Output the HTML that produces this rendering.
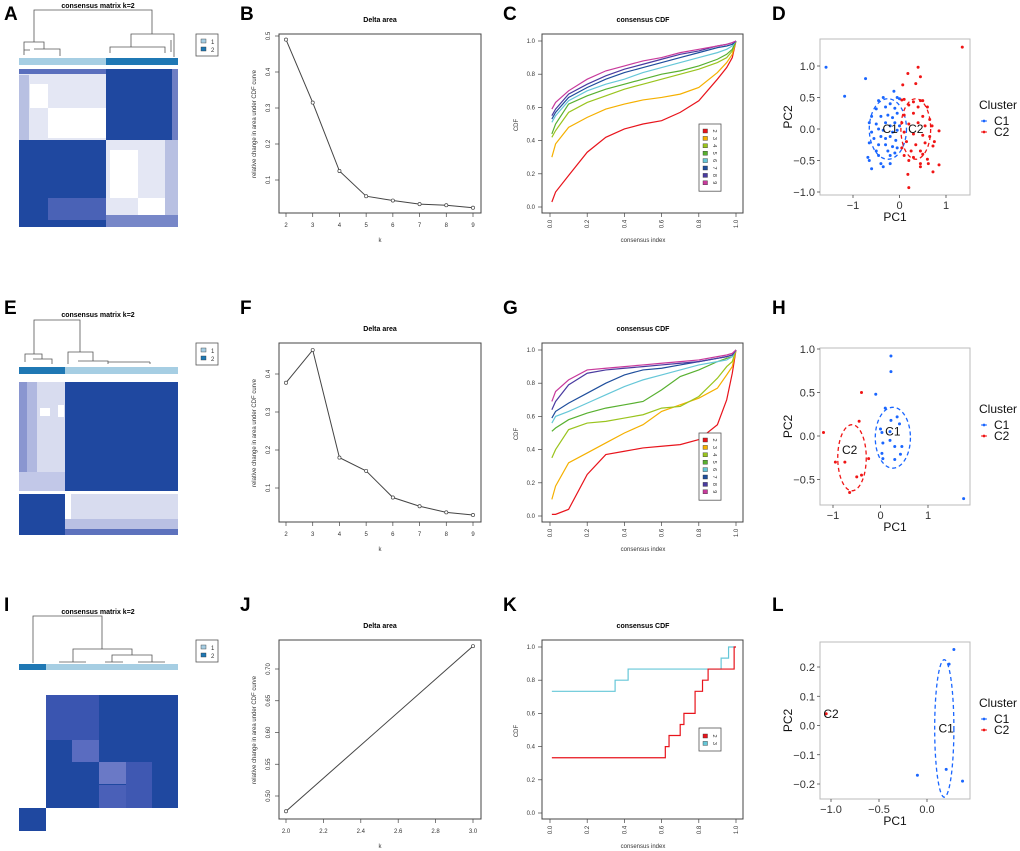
<!DOCTYPE html>
<html><head><meta charset="utf-8">
<style>
html,body{margin:0;padding:0;background:#fff;}
svg{display:block;font-family:"Liberation Sans",sans-serif;}
</style></head>
<body>
<svg id="fig" width="1020" height="851" viewBox="0 0 1020 851" xmlns="http://www.w3.org/2000/svg"></svg>
<script>
// ---------- DATA ----------
const deltaK = [2,3,4,5,6,7,8,9];
const deltaB = [0.49,0.315,0.125,0.055,0.043,0.033,0.030,0.023];
const deltaF = [0.377,0.463,0.18,0.145,0.075,0.052,0.036,0.029];
const deltaJk = [2,3];
const deltaJ = [0.476,0.736];
const cdfX = [0.01,0.03,0.1,0.2,0.3,0.4,0.5,0.6,0.7,0.8,0.9,0.95,0.98,1.0];
const cdfKs = ['2','3','4','5','6','7','8','9'];
const cdfColors = ['#e8141c','#f5b000','#9ac41e','#58b030','#66c7d8','#1f4e9c','#4a3ba0','#c83a9c'];
const cdfC = [
 [0.03,0.09,0.19,0.33,0.42,0.47,0.50,0.52,0.57,0.64,0.77,0.84,0.90,1],
 [0.30,0.38,0.48,0.54,0.59,0.62,0.645,0.66,0.68,0.72,0.81,0.87,0.92,1],
 [0.42,0.46,0.57,0.63,0.67,0.71,0.74,0.77,0.80,0.83,0.87,0.90,0.94,1],
 [0.44,0.50,0.62,0.67,0.71,0.74,0.77,0.80,0.82,0.85,0.89,0.92,0.95,1],
 [0.51,0.55,0.64,0.70,0.74,0.77,0.81,0.84,0.87,0.90,0.93,0.95,0.97,1],
 [0.53,0.57,0.66,0.72,0.77,0.81,0.84,0.87,0.90,0.93,0.96,0.97,0.98,1],
 [0.55,0.59,0.68,0.74,0.79,0.83,0.86,0.89,0.92,0.94,0.97,0.98,0.99,1],
 [0.59,0.63,0.70,0.77,0.82,0.85,0.88,0.90,0.93,0.95,0.97,0.98,0.99,1]];
const cdfG = [
 [0.01,0.01,0.04,0.25,0.37,0.39,0.41,0.42,0.43,0.46,0.55,0.70,0.86,1],
 [0.10,0.18,0.32,0.38,0.44,0.50,0.55,0.63,0.67,0.71,0.77,0.85,0.90,1],
 [0.35,0.40,0.52,0.56,0.57,0.59,0.61,0.65,0.66,0.72,0.83,0.90,0.93,1],
 [0.51,0.53,0.58,0.62,0.65,0.67,0.69,0.76,0.84,0.88,0.93,0.95,0.96,1],
 [0.56,0.60,0.63,0.68,0.73,0.78,0.82,0.85,0.88,0.91,0.93,0.94,0.96,1],
 [0.59,0.63,0.68,0.74,0.80,0.85,0.88,0.89,0.91,0.93,0.95,0.96,0.97,1],
 [0.64,0.69,0.79,0.86,0.88,0.89,0.90,0.91,0.92,0.93,0.95,0.96,0.97,1],
 [0.69,0.75,0.82,0.88,0.89,0.90,0.91,0.92,0.93,0.94,0.96,0.97,0.98,1]];
const stepK2x = [0.01,0.62,0.63,0.64,0.70,0.71,0.72,0.78,0.79,0.82,0.83,0.85,0.98,0.99,1.0];
const stepK2y = [0.333,0.40,0.40,0.467,0.533,0.533,0.60,0.733,0.733,0.80,0.80,0.867,0.867,1.0,1.0];
const stepK3x = [0.01,0.35,0.42,0.92,0.93,0.96,1.0];
const stepK3y = [0.733,0.80,0.867,0.933,0.933,1.0,1.0];
const pcaD_C1 = [[-1.58,0.98],[-1.18,0.52],[-0.73,0.8],[-0.12,0.6],[-0.35,0.5],[-0.05,0.5],[0.0,0.48],[-0.45,0.45],[-0.2,0.4],[-0.3,0.35],[-0.1,0.33],[-0.5,0.32],[-0.6,0.2],[-0.4,0.2],[-0.25,0.22],[-0.15,0.18],[-0.05,0.25],[-0.65,0.1],[-0.5,0.08],[-0.3,0.1],[-0.2,0.05],[-0.1,0.1],[0.0,0.05],[-0.6,-0.05],[-0.45,0.0],[-0.35,-0.02],[-0.15,-0.05],[-0.05,-0.02],[-0.55,-0.15],[-0.4,-0.12],[-0.3,-0.15],[-0.2,-0.12],[-0.08,-0.18],[-0.65,-0.22],[-0.45,-0.25],[-0.3,-0.25],[-0.15,-0.28],[-0.05,-0.3],[-0.5,-0.35],[-0.25,-0.35],[-0.1,-0.38],[-0.68,-0.45],[-0.45,-0.42],[-0.2,-0.42],[-0.65,-0.5],[-0.4,-0.55],[-0.2,-0.55],[-0.6,-0.63],[-0.35,-0.6]];
const pcaD_C2 = [[1.35,1.3],[0.4,0.98],[0.18,0.88],[0.45,0.83],[0.35,0.72],[0.07,0.7],[0.05,0.46],[0.1,0.47],[0.3,0.43],[0.45,0.45],[0.5,0.45],[0.2,0.38],[0.4,0.35],[0.6,0.35],[0.1,0.22],[0.3,0.25],[0.5,0.2],[0.65,0.15],[0.05,0.1],[0.2,0.08],[0.4,0.1],[0.55,0.05],[0.7,0.05],[0.85,-0.03],[0.1,-0.05],[0.3,-0.08],[0.5,-0.1],[0.65,-0.12],[0.15,-0.2],[0.35,-0.25],[0.55,-0.22],[0.75,-0.2],[0.05,-0.3],[0.25,-0.35],[0.45,-0.35],[0.72,-0.27],[0.1,-0.42],[0.3,-0.45],[0.5,-0.4],[0.6,-0.48],[0.2,-0.5],[0.45,-0.55],[0.62,-0.55],[0.85,-0.57],[0.45,-0.6],[0.72,-0.68],[0.18,-0.72],[0.2,-0.93]];
const pcaH_C1 = [[0.22,0.92],[0.22,0.74],[-0.1,0.48],[0.1,0.32],[0.22,0.18],[0.35,0.22],[0.4,0.14],[0,0.08],[0.03,0.04],[0.2,0.05],[0.05,-0.08],[0.2,-0.05],[0.3,-0.12],[0.45,-0.12],[0.03,-0.2],[0.05,-0.26],[0.42,-0.21],[0.3,-0.27],[1.75,-0.72]];
const pcaH_C2 = [[-1.2,0.04],[-0.4,0.5],[-0.45,0.17],[-0.95,-0.3],[-0.75,-0.3],[-0.25,-0.26],[-0.5,-0.47],[-0.4,-0.45],[-0.65,-0.65]];
const pcaL_C1 = [[0.28,0.26],[0.23,0.21],[0.2,-0.15],[-0.1,-0.17],[0.37,-0.19]];
const pcaL_C2 = [[-1.05,0.04]];

// ---------- HELPERS ----------
const NS='http://www.w3.org/2000/svg';
const svg=document.getElementById('fig');
function el(tag,attrs,parent,name,txt){
  const e=document.createElementNS(NS,tag);
  for(const k in attrs) e.setAttribute(k,attrs[k]);
  
  
  if(txt!==undefined) e.textContent=txt;
  (parent||svg).appendChild(e);
  return e;
}
function lin(d0,d1,r0,r1){return v=>r0+(v-d0)*(r1-r0)/(d1-d0);}
function label(x,y,t){el('text',{x:x,y:y,'font-size':19,'font-weight':'bold',fill:'#000'},svg,'panel-label-'+t,t);}

// ---------- base-R delta-area plot ----------
function deltaPlot(oy,ks,vals,xd,yd,ticksY,ticksX,fmtX,fmtY,name){
  const g=el('g',{},svg,name);
  const x=lin(xd[0],xd[1],286,473), y=lin(yd[0],yd[1],yd[2],yd[3]);
  el('text',{x:380,y:oy+22,'font-size':7,'font-weight':'bold','text-anchor':'middle'},g,'title','Delta area');
  el('rect',{x:279,y:oy+34,width:202,height:179,fill:'none',stroke:'#444','stroke-width':1},g,'plot-frame');
  ticksX.forEach(t=>{el('line',{x1:x(t),x2:x(t),y1:oy+213,y2:oy+217,stroke:'#444','stroke-width':0.7},g,'x-tick');
    el('text',{x:x(t),y:oy+227,'font-size':6,'text-anchor':'middle',fill:'#333'},g,'x-tick-label',fmtX(t));});
  ticksY.forEach(t=>{const yy=y(t);el('line',{x1:275,x2:279,y1:yy,y2:yy,stroke:'#444','stroke-width':0.7},g,'y-tick');
    el('text',{x:270,y:yy,'font-size':6,'text-anchor':'middle',fill:'#333',transform:`rotate(-90 270 ${yy})`},g,'y-tick-label',fmtY(t));});
  el('text',{x:380,y:oy+242,'font-size':6,'text-anchor':'middle',fill:'#333'},g,'x-axis-title','k');
  const cy=oy+124;
  el('text',{x:256,y:cy,'font-size':6,'text-anchor':'middle',fill:'#333',transform:`rotate(-90 256 ${cy})`},g,'y-axis-title','relative change in area under CDF curve');
  el('polyline',{points:ks.map((k,i)=>x(k)+','+y(vals[i])).join(' '),fill:'none',stroke:'#444','stroke-width':1},g,'delta-line');
  ks.forEach((k,i)=>el('circle',{cx:x(k),cy:y(vals[i]),r:1.6,fill:'#fff',stroke:'#444','stroke-width':0.7},g,'delta-point-k'+k));
}
const R1=0, R2=309, R3=606;
deltaPlot(R1,deltaK,deltaB,[2,9],[0.5,0.1,36,180],[0.1,0.2,0.3,0.4,0.5],deltaK,t=>String(t),t=>t.toFixed(1),'delta-area-b');
deltaPlot(R2,deltaK,deltaF,[2,9],[0.4,0.1,374,488],[0.1,0.2,0.3,0.4],deltaK,t=>String(t),t=>t.toFixed(1),'delta-area-f');
deltaPlot(R3,deltaJk,deltaJ,[2,3],[0.70,0.50,669,796],[0.50,0.55,0.60,0.65,0.70],[2.0,2.2,2.4,2.6,2.8,3.0],t=>t.toFixed(1),t=>t.toFixed(2),'delta-area-j');

// ---------- CDF plots ----------
function cdfFrame(oy,name){
  const g=el('g',{},svg,name);
  const x=lin(0,1,550,736), y=lin(0,1,oy+207,oy+41);
  el('text',{x:643,y:oy+22,'font-size':7,'font-weight':'bold','text-anchor':'middle'},g,'title','consensus CDF');
  el('rect',{x:542,y:oy+34,width:201,height:179,fill:'none',stroke:'#444','stroke-width':1},g,'plot-frame');
  [0,0.2,0.4,0.6,0.8,1].forEach(t=>{
    el('line',{x1:x(t),x2:x(t),y1:oy+213,y2:oy+217,stroke:'#444','stroke-width':0.7},g,'x-tick');
    const yy=oy+224;
    el('text',{x:x(t),y:yy,'font-size':6,'text-anchor':'middle',fill:'#333',transform:`rotate(-90 ${x(t)} ${yy})`,dy:2},g,'x-tick-label',t.toFixed(1));
    el('line',{x1:538,x2:542,y1:y(t),y2:y(t),stroke:'#444','stroke-width':0.7},g,'y-tick');
    el('text',{x:535,y:y(t)+2,'font-size':6,'text-anchor':'end',fill:'#333'},g,'y-tick-label',t.toFixed(1));
  });
  el('text',{x:643,y:oy+242,'font-size':6,'text-anchor':'middle',fill:'#333'},g,'x-axis-title','consensus index');
  el('text',{x:518,y:oy+125,'font-size':6,'text-anchor':'middle',fill:'#333',transform:`rotate(-90 518 ${oy+125})`},g,'y-axis-title','CDF');
  return {g,x,y};
}
function cdfLegend(g,ly,n){
  const h=n*7.4+8;
  el('rect',{x:699,y:ly,width:22,height:h,fill:'#fff',stroke:'#555','stroke-width':0.8},g,'legend-box');
  for(let i=0;i<n;i++){
    const yy=ly+5+i*7.4;
    el('rect',{x:703,y:yy,width:4.5,height:4,fill:cdfColors[i],stroke:'#333','stroke-width':0.4},g,'legend-swatch-'+cdfKs[i]);
    el('text',{x:715,y:yy+2,'font-size':5.5,'text-anchor':'middle',fill:'#333',transform:`rotate(90 715 ${yy+2})`,dy:2},g,'legend-label-'+cdfKs[i],cdfKs[i]);
  }
}
function cdfPlot(oy,series,name){
  const f=cdfFrame(oy,name);
  series.forEach((s,i)=>el('polyline',{points:cdfX.map((v,j)=>f.x(v)+','+f.y(s[j])).join(' '),fill:'none',stroke:cdfColors[i],'stroke-width':1.2},f.g,'cdf-line-k'+cdfKs[i]));
  cdfLegend(f.g,oy+124,8);
}
cdfPlot(R1,cdfC,'consensus-cdf-c');
cdfPlot(R2,cdfG,'consensus-cdf-g');
(function(){
  const oy=R3;
  const f=cdfFrame(oy,'consensus-cdf-k');
  function steps(xs,ys){let p=[];for(let i=0;i<xs.length;i++){p.push(f.x(xs[i])+','+f.y(i?ys[i-1]:ys[0]));p.push(f.x(xs[i])+','+f.y(ys[i]));}return p.join(' ');}
  el('polyline',{points:steps(stepK3x,stepK3y),fill:'none',stroke:cdfColors[4],'stroke-width':1.2},f.g,'cdf-line-k3');
  el('polyline',{points:steps(stepK2x,stepK2y),fill:'none',stroke:cdfColors[0],'stroke-width':1.2},f.g,'cdf-line-k2');
  const g=f.g, ly=oy+122;
  el('rect',{x:699,y:ly,width:22,height:23,fill:'#fff',stroke:'#555','stroke-width':0.8},g,'legend-box');
  [[0,'2'],[4,'3']].forEach((c,i)=>{const yy=ly+6+i*7.4;
    el('rect',{x:703,y:yy,width:4.5,height:4,fill:cdfColors[c[0]],stroke:'#333','stroke-width':0.4},g,'legend-swatch-'+c[1]);
    el('text',{x:715,y:yy+2,'font-size':5.5,'text-anchor':'middle',fill:'#333',transform:`rotate(90 715 ${yy+2})`,dy:2},g,'legend-label-'+c[1],c[1]);});
})();

// ---------- PCA scatter (ggplot) ----------
function pcaPlot(cfg){
  const g=el('g',{},svg,cfg.name);
  const x=lin(cfg.xd[0],cfg.xd[1],cfg.xr[0],cfg.xr[1]), y=lin(cfg.yd[0],cfg.yd[1],cfg.yr[0],cfg.yr[1]);
  const b=cfg.box;
  el('rect',{x:820,y:b[0],width:150,height:b[1]-b[0],fill:'#fff',stroke:'#bbb','stroke-width':1},g,'plot-panel');
  cfg.xt.forEach(t=>{el('line',{x1:x(t),x2:x(t),y1:b[1],y2:b[1]+3,stroke:'#333','stroke-width':0.7},g,'x-tick');
    el('text',{x:x(t),y:b[1]+14,'font-size':11,'text-anchor':'middle',fill:'#333'},g,'x-tick-label',cfg.fx(t));});
  cfg.yt.forEach(t=>{el('line',{x1:817,x2:820,y1:y(t),y2:y(t),stroke:'#333','stroke-width':0.7},g,'y-tick');
    el('text',{x:815,y:y(t)+4,'font-size':11,'text-anchor':'end',fill:'#333'},g,'y-tick-label',cfg.fy(t));});
  el('text',{x:895,y:b[1]+26,'font-size':12,'text-anchor':'middle',fill:'#111'},g,'x-axis-title','PC1');
  const cy=(b[0]+b[1])/2;
  el('text',{x:792,y:cy,'font-size':12,'text-anchor':'middle',fill:'#111',transform:`rotate(-90 792 ${cy})`},g,'y-axis-title','PC2');
  cfg.ell.forEach(e=>el('ellipse',{cx:x(e[0]),cy:y(e[1]),rx:Math.abs(x(e[2])-x(0)),ry:Math.abs(y(e[3])-y(0)),fill:'none',stroke:e[4],'stroke-width':1.3,'stroke-dasharray':'4,3'},g,'ellipse-'+e[5]));
  cfg.c1.forEach(p=>el('circle',{cx:x(p[0]),cy:y(p[1]),r:1.5,fill:'#1a66ff'},g,'point-c1'));
  cfg.c2.forEach(p=>el('circle',{cx:x(p[0]),cy:y(p[1]),r:1.5,fill:'#f01515'},g,'point-c2'));
  cfg.lab.forEach(l=>el('text',{x:x(l[0]),y:y(l[1])+4,'font-size':12,'text-anchor':'middle',fill:'#111'},g,'cluster-label-'+l[2],l[2]));
  const ly=cfg.ly;
  el('text',{x:979,y:ly,'font-size':12,fill:'#111'},g,'legend-title','Cluster');
  [['C1','#1a66ff'],['C2','#f01515']].forEach((c,i)=>{const yy=ly+12+i*11;
    el('line',{x1:981,x2:987,y1:yy,y2:yy,stroke:c[1],'stroke-width':1},g,'legend-key-'+c[0]);
    el('circle',{cx:984,cy:yy,r:1.4,fill:c[1]},g,'legend-dot-'+c[0]);
    el('text',{x:994,y:yy+4,'font-size':12,fill:'#111'},g,'legend-label-'+c[0],c[0]);});
}
const f1=t=>t.toFixed(1).replace('-','\u2212'), f0=t=>String(t).replace('-','\u2212');
pcaPlot({name:'pca-d',box:[39,195],xd:[-1,1],xr:[853,946],yd:[1,-1],yr:[66,192],xt:[-1,0,1],yt:[1,0.5,0,-0.5,-1],fx:f0,fy:f1,
  c1:pcaD_C1,c2:pcaD_C2,ell:[[-0.25,0,0.4,0.48,'#1a66ff','c1'],[0.35,0,0.32,0.48,'#f01515','c2']],lab:[[-0.2,0,'C1'],[0.35,0,'C2']],ly:109});
pcaPlot({name:'pca-h',box:[348,505],xd:[-1,1],xr:[833,928],yd:[1,0],yr:[349,436],xt:[-1,0,1],yt:[1,0.5,0,-0.5],fx:f0,fy:f1,
  c1:pcaH_C1,c2:pcaH_C2,ell:[[0.26,-0.02,0.37,0.35,'#1a66ff','c1'],[-0.6,-0.25,0.3,0.38,'#f01515','c2']],lab:[[0.26,0.05,'C1'],[-0.65,-0.16,'C2']],ly:413});
pcaPlot({name:'pca-l',box:[642,799],xd:[-1,0],xr:[831,927],yd:[0.2,-0.2],yr:[667,784],xt:[-1,-0.5,0],yt:[0.2,0.1,0,-0.1,-0.2],fx:f1,fy:f1,
  c1:pcaL_C1,c2:pcaL_C2,ell:[[0.18,-0.01,0.1,0.235,'#1a66ff','c1']],lab:[[0.2,-0.01,'C1'],[-1.0,0.04,'C2']],ly:707});

// ---------- consensus heatmaps (decorative) ----------
const DK='#1f48a0', MD='#6f7fc4', LT='#d8dcef', LL='#eceef8';
function hm(oy,name,rects,bar,dendro){
  const g=el('g',{},svg,name);
  el('text',{x:98,y:oy+8,'font-size':7,'font-weight':'bold','text-anchor':'middle'},g,'title','consensus matrix k=2');
  el('path',{d:dendro,fill:'none',stroke:'#555','stroke-width':0.8},g,'dendrogram');
  bar.forEach(b=>el('rect',{x:b[0],y:b[1],width:b[2],height:b[3],fill:b[4]},g,'cluster-bar'));
  rects.forEach(r=>el('rect',{x:r[0],y:r[1],width:r[2],height:r[3],fill:r[4]},g,'heatmap-block'));
  el('rect',{x:196,y:oy+34,width:22,height:22,fill:'#fff',stroke:'#555','stroke-width':0.8},g,'legend-box');
  el('rect',{x:201,y:oy+39,width:5,height:4,fill:'#a6cee3',stroke:'#333','stroke-width':0.4},g,'legend-swatch-1');
  el('rect',{x:201,y:oy+47,width:5,height:4,fill:'#1f78b4',stroke:'#333','stroke-width':0.4},g,'legend-swatch-2');
  el('text',{x:211,y:oy+44,'font-size':6,fill:'#333'},g,'legend-label-1','1');
  el('text',{x:211,y:oy+52,'font-size':6,fill:'#333'},g,'legend-label-2','2');
}
hm(R1,'consensus-matrix-a',[
 [19,69,159,158,'#fff'],
 [19,69,87,71,'#e4e7f4'],[30,84,18,24,'#fff'],[48,108,58,30,'#fff'],[19,69,159,5,'#5a6fbd'],[19,75,10,65,'#b8c0e2'],
 [106,69,72,71,DK],[172,69,6,71,MD],
 [19,140,87,87,DK],[48,198,58,22,'#4a62b6'],
 [106,140,72,87,'#e4e7f4'],[110,150,28,48,'#fff'],[138,198,27,17,'#fff'],[165,140,13,87,'#b8c0e2'],[106,215,72,12,'#7787c8']
],[[19,58,87,7,'#a6cee3'],[106,58,72,7,'#1f78b4']],
 'M34,42 V10 H152 V34 M24,54 V42 H44 V49 M34,49 H60 V56 M24,55 V50 H30 M131,47 V34 H174 V57 M110,53 V47 H165 V53 M171,52 V40');
hm(R2,'consensus-matrix-e',[
 [19,382,46,109,LT],[19,382,8,109,'#8a96d0'],[27,382,10,109,'#b0b8e0'],[40,408,10,8,'#fff'],[58,405,6,12,'#fff'],[19,472,46,19,'#c2c8e8'],
 [65,382,113,109,DK],[19,491,159,3,'#fff'],
 [19,494,46,41,DK],[65,494,113,41,LT],[65,494,6,41,'#fff'],[65,519,113,10,'#b9c0e3'],[65,529,113,6,'#5d72bd']
],[[19,367,46,7,'#1f78b4'],[65,367,113,7,'#a6cee3']],
 'M34,354 V320 H80 V352 M25,362 V354 H42 V359 M33,359 H52 V364 M68,364 V352 H93 V361 M78,361 H108 V364 M108,362 H150 M150,364 V362');
hm(R3,'consensus-matrix-i',[
 [46,695,132,113,DK],[46,695,53,45,'#3a55b0'],[72,740,27,22,'#5a6cc0'],[99,762,27,22,'#6a79c6'],[126,762,26,46,'#3f58b2'],[99,785,27,23,'#4a60b8'],
 [19,808,27,23,DK]
],[[19,664,27,6,'#1f78b4'],[46,664,132,6,'#a6cee3']],
 'M33,663 V616 H102 V649 M73,662 V649 H132 V655 M59,662 V662 H86 V662 M112,662 V655 H152 V662 M105,662 H123 M138,662 H165');

label(4,20,'A');label(240,20,'B');label(503,20,'C');label(772,20,'D');
label(4,314,'E');label(240,314,'F');label(503,314,'G');label(772,314,'H');
label(4,611,'I');label(240,611,'J');label(503,611,'K');label(772,611,'L');
</script>
</body></html>
